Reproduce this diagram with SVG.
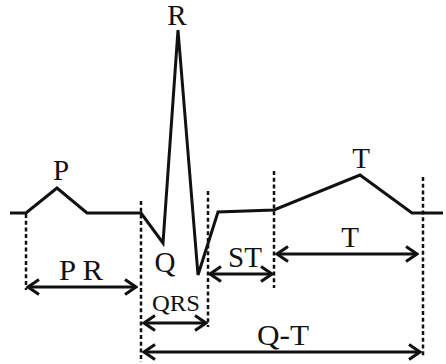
<svg xmlns="http://www.w3.org/2000/svg" width="446" height="364" viewBox="0 0 446 364">
<defs>
<style>
.wave{fill:none;stroke:#111;stroke-width:3;stroke-linejoin:miter}
.dash{fill:none;stroke:#111;stroke-width:2.5;stroke-dasharray:4 2.7}
.arr{fill:none;stroke:#111;stroke-width:3;marker-start:url(#head);marker-end:url(#head)}
.lbl{font-family:"Liberation Serif","Times New Roman",serif;font-size:29px;fill:#111;text-anchor:middle}
.sm{font-size:23px}
</style>
<marker id="head" viewBox="-13 -9 15 18" markerWidth="15" markerHeight="18" refX="0" refY="0" orient="auto-start-reverse" markerUnits="userSpaceOnUse">
<path d="M-11,-7.5 L0,0 L-11,7.5" fill="none" stroke="#111" stroke-width="3"/>
</marker>
</defs>
<rect width="446" height="364" fill="#fff"/>
<g id="connectors">
<line class="dash" x1="26" y1="214" x2="26" y2="290"/>
<line class="dash" x1="141" y1="201" x2="141" y2="362"/>
<line class="dash" x1="208" y1="191" x2="208" y2="327"/>
<line class="dash" x1="274" y1="171" x2="274" y2="288"/>
<line class="dash" x1="423" y1="177" x2="423" y2="358"/>
<line class="arr" x1="28" y1="287" x2="136" y2="287"/>
<line class="arr" x1="144" y1="323" x2="206" y2="323"/>
<line class="arr" x1="210" y1="274" x2="272" y2="274"/>
<line class="arr" x1="277" y1="254" x2="417" y2="254"/>
<line class="arr" x1="144" y1="352" x2="420" y2="352"/>
</g>
<g id="ecg-wave">
<polyline class="wave" points="10,213 26,213 57,188 87,213 141,213 163,243 178,30 198,275 218,212 274,210 360,175 412,213 443,213"/>
</g>
<g id="label-R"><text class="lbl" x="177" y="25">R</text></g>
<g id="label-P"><text class="lbl" x="61" y="180">P</text></g>
<g id="label-Q"><text class="lbl" x="165" y="272">Q</text></g>
<g id="label-T-top"><text class="lbl" x="361" y="168">T</text></g>
<g id="label-PR"><text class="lbl" x="81" y="280" textLength="44" lengthAdjust="spacingAndGlyphs">P R</text></g>
<g id="label-QRS"><text class="lbl sm" x="176" y="311" textLength="48" lengthAdjust="spacingAndGlyphs">QRS</text></g>
<g id="label-ST"><text class="lbl" x="245" y="267">ST</text></g>
<g id="label-T"><text class="lbl" x="350" y="247">T</text></g>
<g id="label-QT"><text class="lbl" x="283" y="345" textLength="52" lengthAdjust="spacingAndGlyphs">Q-T</text></g>
</svg>
